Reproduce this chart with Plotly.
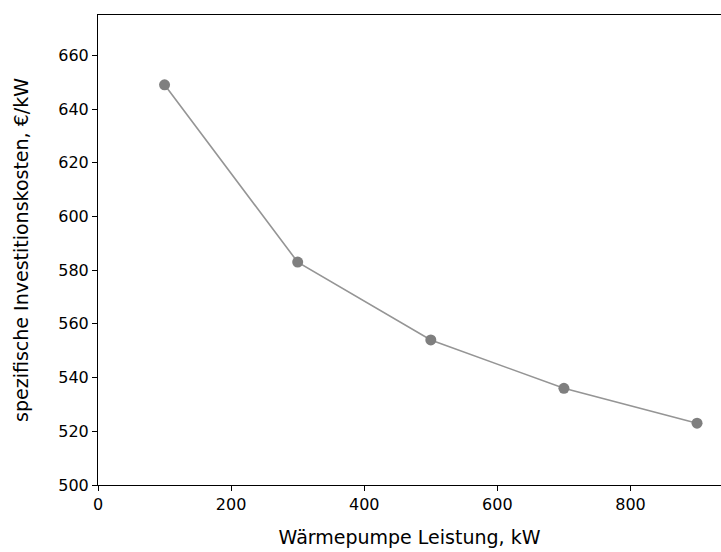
import plotly.graph_objects as go

leistung_kw = [100, 300, 500, 700, 900]
kosten_eur_kw = [649, 583, 554, 536, 523]
x_ticks = [0, 200, 400, 600, 800]
y_ticks = [500, 520, 540, 560, 580, 600, 620, 640, 660]

fig = go.Figure()
fig.add_trace(go.Scatter(
    x=leistung_kw, y=kosten_eur_kw, mode="lines+markers",
    line=dict(color="#959595", width=1.6),
    marker=dict(color="#7f7f7f", size=11),
    showlegend=False, cliponaxis=False,
))

font = "DejaVu Sans, sans-serif"
fig.update_layout(
    width=721, height=552,
    margin=dict(l=98, r=0, t=15, b=67, autoexpand=False),
    paper_bgcolor="white", plot_bgcolor="white",
    font=dict(family=font, size=16, color="black"),
    xaxis=dict(
        range=[0, 936], tickvals=x_ticks, ticks="outside", ticklen=5,
        tickcolor="black", tickwidth=1.1, showline=True, linecolor="black",
        linewidth=1.1, mirror=True, showgrid=False, zeroline=False,
        tickfont=dict(size=16),
        title=dict(text="Wärmepumpe Leistung, kW", font=dict(size=19), standoff=17),
        automargin=False,
    ),
    yaxis=dict(
        range=[500, 675], tickvals=y_ticks, ticks="outside", ticklen=5,
        tickcolor="black", tickwidth=1.1, showline=True, linecolor="black",
        linewidth=1.1, mirror=False, showgrid=False, zeroline=False,
        tickfont=dict(size=16),
        title=dict(text="spezifische Investitionskosten, €/kW", font=dict(size=19), standoff=24),
        automargin=False,
    ),
)
fig.write_html("out.html")
